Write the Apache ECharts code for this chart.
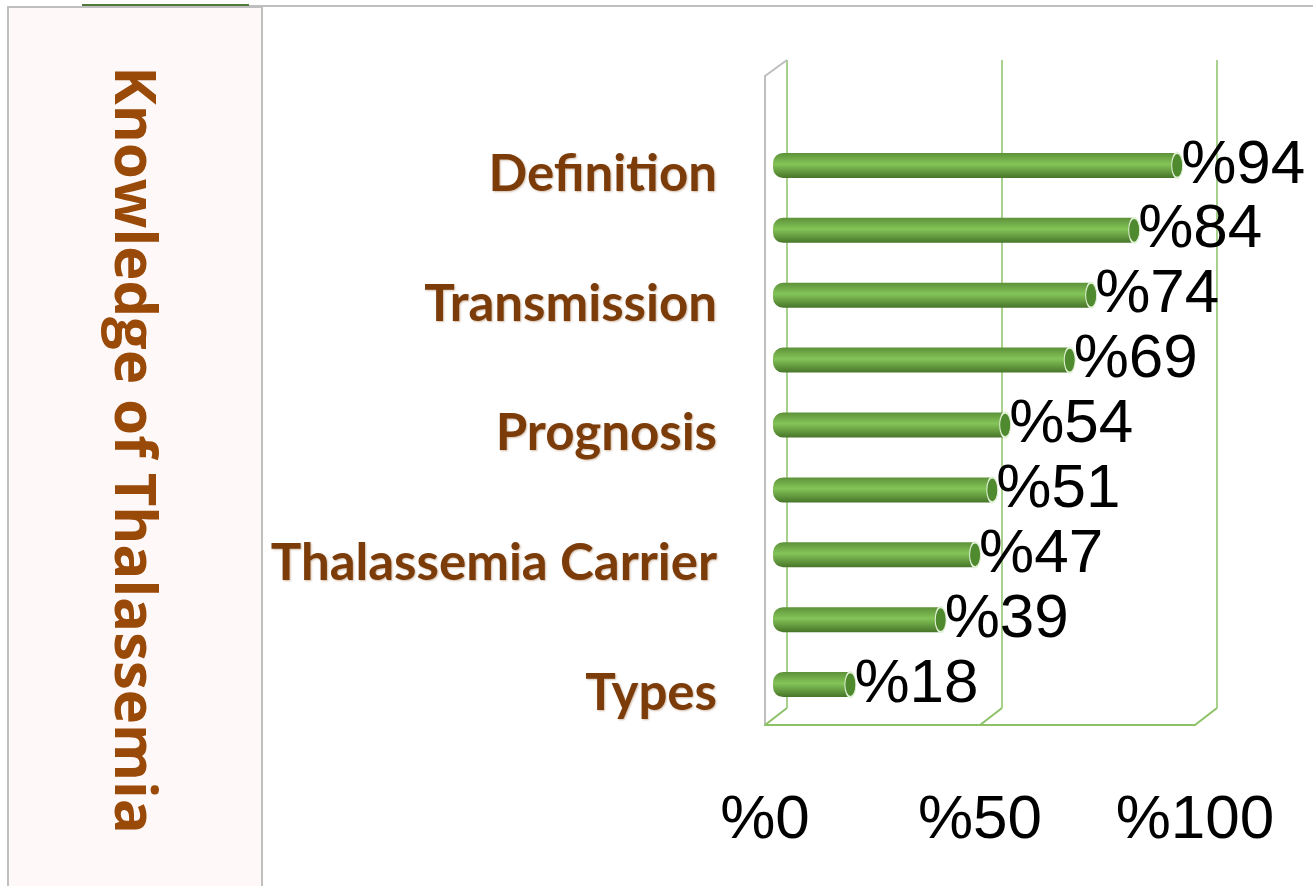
<!DOCTYPE html>
<html>
<head>
<meta charset="utf-8">
<script src="https://cdn.jsdelivr.net/npm/echarts@6/dist/echarts.min.js"></script>
<style>
  html, body { margin: 0; padding: 0; background: #fff; }
  #chart { width: 1313px; height: 886px; }
</style>
</head>
<body>
<div id="chart"></div>
<script>
// bottom to top, only every other row is labelled in the source
const categories = ['Types', '', 'Thalassemia Carrier', '', 'Prognosis', '', 'Transmission', '', 'Definition'];
const values = [18, 39, 47, 51, 54, 69, 74, 84, 94];
const tickValues = [0, 50, 100];
const titleText = 'Knowledge of Thalassemia';

const chart = echarts.init(document.getElementById('chart'));

const barColor = new echarts.graphic.LinearGradient(0, 0, 0, 1, [
  { offset: 0, color: '#5d9139' },
  { offset: 0.45, color: '#84c458' },
  { offset: 1, color: '#477529' }
]);

const wallGreen = '#a9d18e';
const floorGreen = '#8cc168';

chart.setOption({
  backgroundColor: '#fff',
  animation: false,
  grid: [
    // bars
    { left: 773, top: 133, width: 430, height: 584 },
    // back wall
    { left: 787, top: 60, width: 430, height: 648 },
    // front floor edge
    { left: 765, top: 76, width: 430, height: 649 }
  ],
  xAxis: [
    { gridIndex: 0, type: 'value', min: 0, max: 100, show: false },
    {
      gridIndex: 1, type: 'value', min: 0, max: 100, interval: 50,
      axisLine: { show: false }, axisTick: { show: false }, axisLabel: { show: false },
      splitLine: { show: true, lineStyle: { color: wallGreen, width: 2 } }
    },
    {
      gridIndex: 2, type: 'value', min: 0, max: 100, interval: 50,
      axisLine: { show: true, lineStyle: { color: floorGreen, width: 2 } },
      axisTick: { show: false },
      splitLine: { show: false },
      axisLabel: {
        margin: 65,
        formatter: (v) => tickValues.includes(v) ? '%' + v : '',
        fontFamily: 'Liberation Sans',
        fontSize: 62,
        color: '#000'
      }
    }
  ],
  yAxis: [
    {
      gridIndex: 0, type: 'category', data: categories,
      axisLine: { show: false }, axisTick: { show: false },
      axisLabel: {
        interval: 0,
        margin: 56,
        formatter: (v) => v ? '{c|' + v + '}' : '',
        rich: {
          c: {
            padding: [18, 0, 0, 0],
            fontFamily: 'Lato',
            fontWeight: 'bold',
            fontSize: 51,
            color: '#7b3c0a',
            textShadowColor: 'rgba(120,60,10,0.35)',
            textShadowBlur: 2,
            textShadowOffsetX: 1,
            textShadowOffsetY: 1
          }
        }
      }
    },
    { gridIndex: 1, type: 'value', min: 0, max: 1, show: false },
    {
      gridIndex: 2, type: 'value', min: 0, max: 1,
      axisLine: { show: true, lineStyle: { color: '#bfbfbf', width: 2 } },
      axisTick: { show: false }, axisLabel: { show: false }, splitLine: { show: false }
    }
  ],
  series: [
    {
      type: 'bar',
      xAxisIndex: 0,
      yAxisIndex: 0,
      data: values,
      barWidth: 25,
      itemStyle: { color: barColor, borderRadius: [10, 0, 0, 10] },
      z: 3
    },
    {
      // elliptical end caps carrying the value labels
      type: 'scatter',
      xAxisIndex: 0,
      yAxisIndex: 0,
      data: values.map((v, i) => [v, i]),
      symbol: 'circle',
      symbolSize: [11, 25],
      itemStyle: { color: '#4f8a2e', borderColor: '#e3f1d8', borderWidth: 1.5, opacity: 1 },
      label: {
        show: true,
        position: 'right',
        distance: -2,
        formatter: (p) => '%' + p.value[0],
        fontFamily: 'Liberation Sans',
        fontSize: 62,
        color: '#000'
      },
      z: 4
    }
  ]
});

// 3D wall edges joining front and back planes
const front = (x, y) => chart.convertToPixel({ gridIndex: 2 }, [x, y]);
const back = (x, y) => chart.convertToPixel({ gridIndex: 1 }, [x, y]);
const edge = (a, b, color) => ({
  type: 'line',
  shape: { x1: a[0], y1: a[1], x2: b[0], y2: b[1] },
  style: { stroke: color, lineWidth: 2 },
  z: 1
});

const edges = [edge(front(0, 1), back(0, 1), '#bfbfbf')];
tickValues.forEach((t) => edges.push(edge(front(t, 0), back(t, 0), floorGreen)));

chart.setOption({
  graphic: [
    {
      type: 'rect',
      shape: { x: 8, y: 7, width: 254, height: 890 },
      style: { fill: '#fff8f8', stroke: '#bfbfbf', lineWidth: 2 },
      z: 0
    },
    {
      type: 'line',
      shape: { x1: 249, y1: 6, x2: 1313, y2: 6 },
      style: { stroke: '#bfbfbf', lineWidth: 2 },
      z: 0
    },
    {
      type: 'line',
      shape: { x1: 82, y1: 5, x2: 249, y2: 5 },
      style: { stroke: '#4f7a3a', lineWidth: 2 },
      z: 1
    },
    {
      type: 'text',
      x: 132,
      y: 450,
      rotation: -Math.PI / 2,
      style: {
        text: titleText,
        x: 0,
        y: 0,
        align: 'center',
        verticalAlign: 'middle',
        fontFamily: 'Open Sans',
        fontWeight: 'bold',
        fontSize: 58,
        fill: '#9a4a08'
      },
      z: 2
    },
    ...edges
  ]
});
</script>
</body>
</html>
